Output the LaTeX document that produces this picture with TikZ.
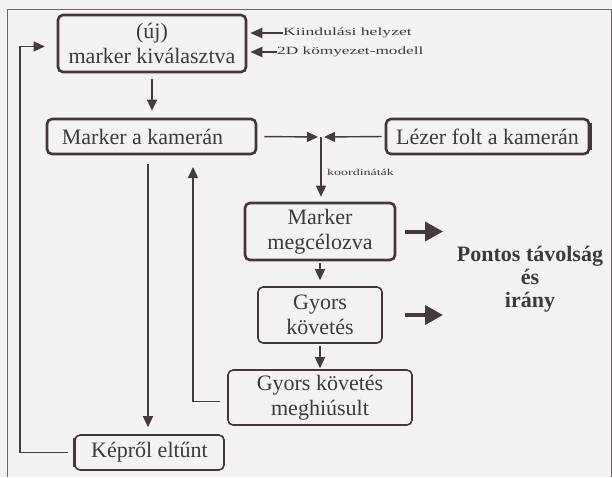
\documentclass[tikz,border=0pt]{standalone}
\usepackage{fontspec}
\setmainfont{Liberation Serif}
\usetikzlibrary{arrows.meta}
\definecolor{bordc}{RGB}{72,52,62}
\definecolor{linec}{RGB}{70,58,64}
\definecolor{txtc}{RGB}{62,58,60}
\definecolor{bgc}{RGB}{243,243,243}
\definecolor{framec}{RGB}{110,100,105}
\begin{document}
\begin{tikzpicture}[x=1pt,y=-1pt,
  box/.style={draw=bordc, line width=2.6pt, rounded corners=5pt, align=center, inner sep=0pt, text=txtc, font=\fontsize{22}{25}\selectfont},
  thinbox/.style={box, line width=1.6pt},
  conn/.style={draw=linec, line width=1.4pt},
  arr/.style={conn, -{Triangle[length=11pt,width=10pt]}},
  arrs/.style={draw=linec, line width=2pt, -{Triangle[length=12pt,width=10pt]}},
  bigarr/.style={draw=linec, line width=4pt, -{Triangle[length=18pt,width=19pt]}},
  small/.style={text=txtc, inner sep=0pt, anchor=west}
]
\fill[bgc] (0,0) rectangle (612,477);
\useasboundingbox (0,0) rectangle (612,477);
\draw[framec, line width=1pt] (7,477) -- (7,9) -- (611,9) -- (611,477);

% boxes
\node[box, minimum width=188pt, minimum height=57pt] (b1) at (152,43.5) {(új)\\marker kiválasztva};
\node[box, minimum width=209pt, minimum height=35pt] (b2) at (151.5,136.5) {Marker a kamerán\hspace*{18pt}};
\node[box, minimum width=203pt, minimum height=35pt] (b3) at (487.5,136.5) {Lézer folt a kamerán};
\node[box, minimum width=150pt, minimum height=57pt] (b4) at (320,231.5) {Marker\\megcélozva};
\node[thinbox, minimum width=124pt, minimum height=56pt] (b5) at (320,315) {Gyors\\követés};
\node[thinbox, minimum width=184pt, minimum height=55pt] (b6) at (320,397.5) {Gyors követés\\meghiúsult};
\node[thinbox, minimum width=149pt, minimum height=35pt] (b7) at (149.5,452.5) {Képről eltűnt};
\draw[bordc, line width=3.6pt] ([yshift=-5pt]b3.north east) -- ([yshift=5pt]b3.south east);
\draw[bordc, line width=3.4pt] ([yshift=-4pt]b7.north west) -- ([yshift=4pt]b7.south west);

% side inputs
\node[small, font=\fontsize{11}{12}\selectfont] (k1) at (283,33) {\scalebox{1.6}[1]{Kiindulási helyzet}};
\node[small, font=\fontsize{11}{12}\selectfont] (k2) at (277,52) {\scalebox{1.57}[1]{2D kömyezet-modell}};
\draw[arrs, shorten >=3pt] (k1.west) -- (b1.east |- k1.west);
\draw[arrs, shorten >=3pt] (k2.west) -- (b1.east |- k2.west);

% main flow
\draw[arr, shorten <=6pt, shorten >=7pt] (b1.south) -- (b1.south |- b2.north);
\coordinate (jn) at (321,137);
\draw[arr, shorten <=7pt, shorten >=3pt] (b2.east) -- (jn);
\draw[arr, shorten <=3pt, shorten >=3pt] (b3.west) -- (jn);
\draw[arr, shorten >=5pt] (jn) -- (jn |- b4.north);
\node[small, font=\fontsize{9}{10}\selectfont] (kl) at (327,172) {\scalebox{1.55}[1]{koordináták}};
\draw[arr, shorten <=2pt, shorten >=6pt] (b4.south) -- (b5.north);
\draw[arr, shorten <=2pt, shorten >=1pt] (b5.south) -- (b6.north);

% loops
\coordinate (loopx) at (20,0);
\draw[arr, shorten <=6pt, shorten >=12pt] (b7.west) -| (loopx |- 0,46.5) -- ([yshift=-3pt]b1.west);
\draw[arr, shorten <=9pt, shorten >=7pt] ([xshift=-3.5pt]b2.south) -- ([xshift=-3.5pt]b2.south |- b7.north);
\coordinate (up) at (193,167);
\draw[arr, shorten <=7pt] ([yshift=-4pt]b6.west) -| (up);

% result
\node[text=txtc, font=\bfseries\fontsize{22}{23}\selectfont, align=center] (res) at (530,279) {Pontos távolság\\és\\irány};
\coordinate (ba1) at (443,231.5);
\coordinate (ba2) at (443,315);
\draw[bigarr, shorten <=9pt] (b4.east) -- (ba1);
\draw[bigarr, shorten <=22pt] (b5.east) -- (ba2);
\end{tikzpicture}
\end{document}
